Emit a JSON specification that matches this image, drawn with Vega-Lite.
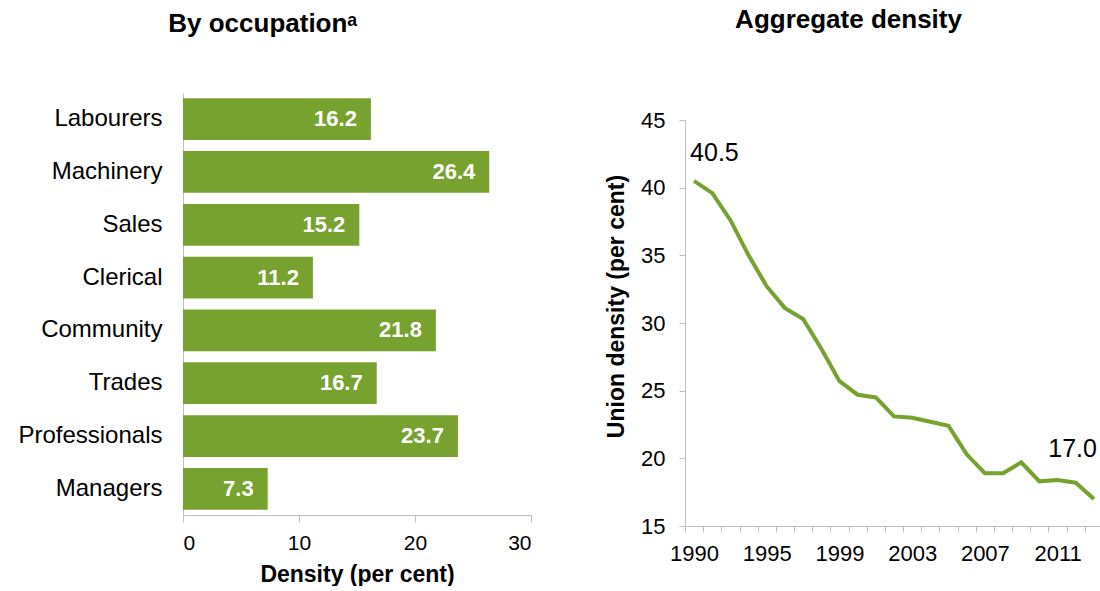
{
  "$schema": "https://vega.github.io/schema/vega-lite/v6.json",
  "background": "white",
  "padding": {"left": 17, "top": 7, "right": 0, "bottom": 0},
  "spacing": 73,
  "config": {
    "view": {"stroke": null},
    "font": "Liberation Sans",
    "axis": {"grid": false, "domainColor": "#BFBFBF", "tickColor": "#BFBFBF", "labelFont": "Liberation Sans", "labelFontSize": 22, "labelColor": "#000000", "titleFont": "Liberation Sans", "titleFontSize": 23, "titleFontWeight": "bold", "titleColor": "#000000"},
    "title": {"font": "Liberation Sans", "fontSize": 26, "fontWeight": "bold", "color": "#000000", "anchor": "middle", "frame": "bounds", "baseline": "alphabetic"}
  },
  "datasets": {
    "occ": [
      {"occupation": "Labourers", "density": 16.2},
      {"occupation": "Machinery", "density": 26.4},
      {"occupation": "Sales", "density": 15.2},
      {"occupation": "Clerical", "density": 11.2},
      {"occupation": "Community", "density": 21.8},
      {"occupation": "Trades", "density": 16.7},
      {"occupation": "Professionals", "density": 23.7},
      {"occupation": "Managers", "density": 7.3}
    ],
    "agg": [
      {"year": "1990", "density": 40.5},
      {"year": "1992", "density": 39.6},
      {"year": "1993", "density": 37.6},
      {"year": "1994", "density": 35.0},
      {"year": "1995", "density": 32.7},
      {"year": "1996", "density": 31.1},
      {"year": "1997", "density": 30.3},
      {"year": "1998", "density": 28.1},
      {"year": "1999", "density": 25.7},
      {"year": "2000", "density": 24.7},
      {"year": "2001", "density": 24.5},
      {"year": "2002", "density": 23.1},
      {"year": "2003", "density": 23.0},
      {"year": "2004", "density": 22.7},
      {"year": "2005", "density": 22.4},
      {"year": "2006", "density": 20.3},
      {"year": "2007", "density": 18.9},
      {"year": "2008", "density": 18.9},
      {"year": "2009", "density": 19.7},
      {"year": "2010", "density": 18.3},
      {"year": "2011", "density": 18.4},
      {"year": "2012", "density": 18.2},
      {"year": "2013", "density": 17.0}
    ],
    "spacer": [{"k": 1}]
  },
  "hconcat": [
    {
      "title": {"text": "By occupationᵃ", "offset": 56, "dx": -12},
      "width": 348,
      "height": 422,
      "data": {"name": "occ"},
      "encoding": {
        "y": {"field": "occupation", "type": "nominal", "sort": null, "scale": {"paddingInner": 0.21, "paddingOuter": 0.1}, "axis": {"title": null, "ticks": false, "labelPadding": 21, "labelFontSize": 24}},
        "x": {"field": "density", "type": "quantitative", "scale": {"domain": [0, 30], "nice": false}, "axis": {"title": "Density (per cent)", "values": [0, 10, 20, 30], "tickSize": 7, "labelFontSize": 21, "labelPadding": 10, "titlePadding": 10}}
      },
      "layer": [
        {"mark": {"type": "bar", "color": "#78A22F"}},
        {"mark": {"type": "text", "align": "right", "baseline": "middle", "dx": -14, "color": "white", "fontWeight": "bold", "fontSize": 22, "font": "Liberation Sans"},
         "encoding": {"text": {"field": "density", "type": "quantitative", "format": ".1f"}}}
      ]
    },
    {
      "title": {"text": "Aggregate density", "offset": 60, "dx": -6},
      "spacing": 0,
      "vconcat": [
        {
          "width": 418,
          "height": 16,
          "data": {"name": "spacer"},
          "mark": {"type": "point", "opacity": 0}
        },
        {
          "width": 418,
          "height": 406,
          "data": {"name": "agg"},
          "encoding": {
            "x": {"field": "year", "type": "ordinal", "scale": {"paddingInner": 0, "paddingOuter": 0}, "axis": {"title": null, "labelAngle": 0, "tickBand": "extent", "tickSize": 6, "labelPadding": 11, "labelOverlap": false, "labelExpr": "indexof(['1990','1995','1999','2003','2007','2011'], datum.value) >= 0 ? datum.value : ''"}},
            "y": {"field": "density", "type": "quantitative", "scale": {"domain": [15, 45], "nice": false}, "axis": {"title": "Union density (per cent)", "values": [15, 20, 25, 30, 35, 40, 45], "tickSize": 6, "labelPadding": 14, "titlePadding": 12, "titleY": 186}}
          },
          "layer": [
            {"mark": {"type": "line", "color": "#78A22F", "strokeWidth": 4}},
            {"transform": [{"filter": "datum.year == '1990'"}],
             "mark": {"type": "text", "align": "left", "baseline": "middle", "dx": -4, "dy": -28, "fontSize": 25, "font": "Liberation Sans", "color": "#000000"},
             "encoding": {"text": {"field": "density", "type": "quantitative", "format": ".1f"}}},
            {"transform": [{"filter": "datum.year == '2013'"}],
             "mark": {"type": "text", "align": "right", "baseline": "middle", "dx": 3, "dy": -50, "fontSize": 25, "font": "Liberation Sans", "color": "#000000"},
             "encoding": {"text": {"field": "density", "type": "quantitative", "format": ".1f"}}}
          ]
        }
      ]
    }
  ]
}
